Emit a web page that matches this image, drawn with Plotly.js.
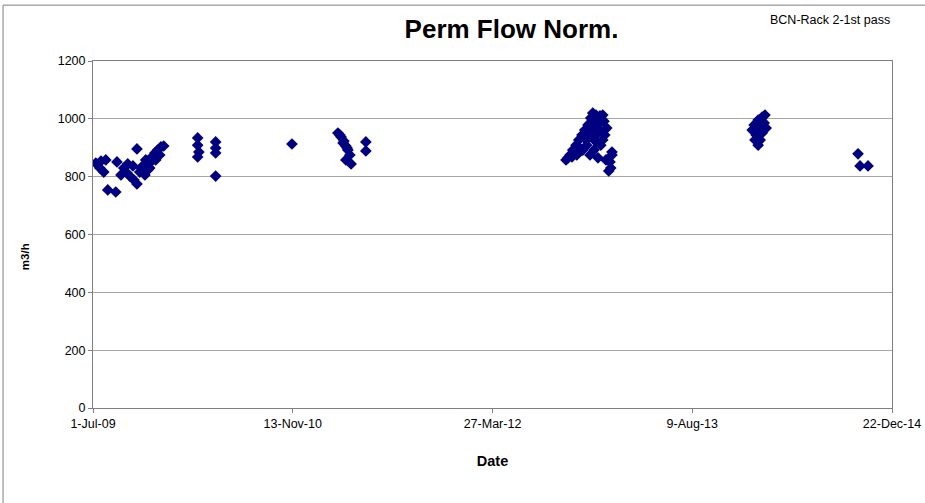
<!DOCTYPE html>
<html>
<head>
<meta charset="utf-8">
<script src="https://cdn.plot.ly/plotly-3.0.1.min.js"></script>
<style>html,body{margin:0;padding:0;background:#fff;}#chart{width:925px;height:503px;}</style>
</head>
<body>
<div id="chart"></div>
<script>
const dates = [
  "2009-07-08","2009-07-21","2009-08-02","2009-07-28","2009-07-18","2009-08-07","2009-08-27","2009-08-30",
  "2009-09-16","2009-09-24","2009-10-01","2009-10-11","2009-10-19","2009-10-19","2009-10-29","2009-11-05",
  "2009-11-10","2009-11-15","2009-11-20","2009-11-25","2009-12-03","2009-12-10","2009-12-18","2009-12-25",
  "2009-10-09","2009-09-26","2009-09-09","2009-10-26","2009-11-08","2009-11-20","2009-12-05","2009-12-15",
  "2010-03-20","2010-03-20","2010-03-23","2010-03-20","2010-05-04","2010-05-04","2010-05-04","2010-05-04",
  "2010-11-11",
  "2011-03-06","2011-03-14","2011-03-21","2011-03-26","2011-03-31","2011-04-05","2011-03-26","2011-04-08",
  "2011-03-11","2011-03-19","2011-03-29","2011-05-15","2011-05-15",
  "2012-10-02","2012-10-07","2012-10-14","2012-10-22","2012-10-29","2012-11-06","2012-11-13","2012-11-21",
  "2012-11-28","2012-12-03","2012-12-11","2012-12-21","2012-12-28","2012-12-31","2012-12-21","2012-12-11",
  "2012-12-13","2012-12-06","2012-11-26","2012-12-16","2013-01-02","2013-01-07","2012-12-23","2013-01-20",
  "2013-01-15","2013-01-17","2013-01-12","2013-01-05","2013-01-20","2012-09-27","2012-10-12","2012-11-01",
  "2012-11-16","2012-11-23","2012-12-01","2012-12-08","2012-12-16","2012-12-06","2012-11-18","2012-11-08",
  "2012-10-24","2012-12-28",
  "2014-01-06","2014-01-11","2014-01-16","2014-01-21","2014-01-26","2014-01-31","2014-02-05","2014-02-10",
  "2014-01-21","2014-01-31","2014-02-07","2014-01-13","2014-01-26",
  "2014-09-28","2014-10-03","2014-10-23"
];
const values = [
  847,854,858,816,830,754,747,851,
  830,813,802,789,775,896,830,840,
  858,823,847,868,882,892,903,906,
  837,844,806,816,806,830,858,875,
  934,909,885,868,920,899,882,802,
  913,
  951,937,923,906,892,875,858,844,
  944,916,899,920,889,
  865,875,892,909,927,944,961,979,
  1003,1020,1013,1010,1013,992,961,944,
  920,892,875,865,944,968,909,875,
  851,830,820,858,885,858,868,899,
  927,944,968,989,979,927,909,892,
  875,927,
  961,979,944,996,927,1006,986,968,
  909,951,1013,927,968,
  879,837,837
];
const tickDates = ["2009-07-01","2010-11-13","2012-03-27","2013-08-09","2014-12-22"];
const tickLabels = ["1-Jul-09","13-Nov-10","27-Mar-12","9-Aug-13","22-Dec-14"];
const yTicks = [0,200,400,600,800,1000,1200];

const font = "Liberation Sans, Arial, sans-serif";

Plotly.newPlot("chart", [{
  x: dates, y: values, type: "scatter", mode: "markers",
  marker: {symbol: "diamond", size: 9, color: "#000080", line: {width: 0}},
  hoverinfo: "x+y"
}], {
  width: 925, height: 503,
  margin: {l: 93, r: 33, t: 61, b: 95},
  paper_bgcolor: "#ffffff", plot_bgcolor: "#ffffff",
  font: {family: font, size: 12, color: "#000"},
  title: {text: "<b>Perm Flow Norm.</b>", font: {family: font, size: 26, color: "#000"},
          x: 0.553, xanchor: "center", y: 0.942, yanchor: "middle"},
  showlegend: false,
  xaxis: {
    type: "date", range: ["2009-07-01", "2014-12-22"],
    tickvals: tickDates, ticktext: tickLabels,
    showgrid: false, zeroline: false,
    showline: true, linecolor: "#808080", linewidth: 1, mirror: true,
    ticks: "outside", ticklen: 4, tickcolor: "#808080",
    tickfont: {family: font, size: 12.5, color: "#000"},
    title: {text: "<b>Date</b>", font: {family: font, size: 14.5, color: "#000"}, standoff: 25}
  },
  yaxis: {
    range: [0, 1200], tickvals: yTicks,
    showgrid: true, gridcolor: "#a6a6a6", gridwidth: 1, zeroline: false,
    showline: true, linecolor: "#808080", linewidth: 1, mirror: true,
    ticks: "outside", ticklen: 4, tickcolor: "#808080",
    tickfont: {family: font, size: 12.5, color: "#000"}
  },
  annotations: [{
    text: "BCN-Rack 2-1st pass", xref: "paper", yref: "paper",
    x: 1.0, y: 1.118, xanchor: "right", yanchor: "middle", showarrow: false,
    font: {family: font, size: 12.5, color: "#000"}
  }, {
    text: "<b>m3/h</b>", xref: "paper", yref: "paper", textangle: -90,
    x: -0.085, y: 0.435, xanchor: "center", yanchor: "middle", showarrow: false,
    font: {family: font, size: 11.5, color: "#000"}
  }],
  shapes: [{
    type: "rect", xref: "paper", yref: "paper",
    x0: -0.1126, x1: 1.5, y0: -2, y1: 1.161,
    line: {color: "#808080", width: 1}, fillcolor: "rgba(0,0,0,0)", layer: "below"
  }]
}, {displayModeBar: false, staticPlot: true});
</script>
</body>
</html>
